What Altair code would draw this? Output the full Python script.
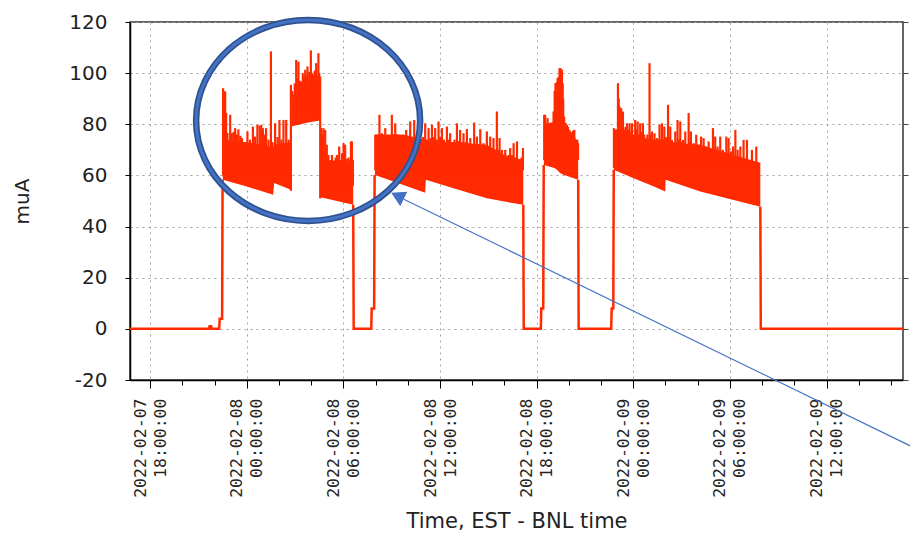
import json
import altair as alt
import pandas as pd

RED = "#ff2a00"

# ---------------- axes / ticks (x = hours since 2022-02-07 00:00 EST) ----------------
x_domain = [16.75, 64.75]
y_domain = [-20, 120]
y_ticks = [-20, 0, 20, 40, 60, 80, 100, 120]
x_major_hours = [18, 24, 30, 36, 42, 48, 54, 60]
x_major_dates = ["2022-02-07", "2022-02-08", "2022-02-08", "2022-02-08",
                 "2022-02-08", "2022-02-09", "2022-02-09", "2022-02-09"]
x_major_times = ["18:00:00", "00:00:00", "06:00:00", "12:00:00",
                 "18:00:00", "00:00:00", "06:00:00", "12:00:00"]
x_minor_hours = [18, 20, 22, 24, 26, 28, 30, 32, 34, 36, 38, 40, 42, 44,
                 46, 48, 50, 52, 54, 56, 58, 60, 62, 64]

# ---------------- beam-off stretches (trace at zero, injection steps) ----------------
off_seg = [0] * 9 + [1] * 6 + [2] * 6 + [3] * 6 + [4] * 3
off_hours = [16.75, 21.66, 21.69, 21.79, 21.82, 22.29, 22.32, 22.47, 22.50,
             30.61, 30.64, 31.73, 31.76, 31.91, 31.94,
             41.17, 41.20, 42.26, 42.29, 42.41, 42.44,
             44.58, 44.61, 46.63, 46.66, 46.76, 46.79,
             55.89, 55.92, 64.75]
off_values = [0, 0, 1, 1, 0, 0, 4, 4, 58.3,
              48.5, 0, 0, 8, 8, 60.2,
              48.5, 0, 0, 8, 8, 64.1,
              58.3, 0, 0, 8, 8, 62.2,
              47.8, 0, 0]

# ---------------- dense stored-beam bands (lower envelope / solid top) ----------------
band_id = ["A1"] * 5 + ["A2"] * 3 + ["A3"] * 3 + ["B"] * 8 + ["C"] * 8 + ["D"] * 8
band_hours = [22.51, 24.00, 25.64, 25.70, 26.74,
              26.76, 27.80, 28.56,
              28.58, 29.60, 30.61,
              31.96, 33.73, 35.08, 35.12, 36.84, 38.91, 40.00, 41.17,
              42.45, 43.10, 43.12, 43.26, 43.47, 43.62, 43.66, 44.58,
              46.79, 48.02, 49.06, 49.99, 50.01, 52.16, 54.23, 55.89]
band_low = [58.3, 55.7, 52.4, 57.0, 54.4,
            79.1, 80.7, 81.5,
            51.5, 50.0, 48.5,
            60.2, 56.3, 53.2, 58.3, 55.0, 51.1, 49.8, 48.5,
            64.1, 62.9, 62.8, 62.2, 60.9, 60.5, 60.3, 58.3,
            62.2, 58.9, 56.3, 53.7, 58.3, 53.7, 50.4, 47.8]
band_top = [74, 73, 71, 72, 73,
            91, 96, 96,
            65, 66, 65,
            76, 76, 74, 73, 73, 72, 68, 66,
            80, 81, 93, 96, 97, 96, 81, 73,
            76, 76, 74, 74, 73, 72, 68, 65]

# ---------------- spikes on top of the bands ----------------
a1_hours = [22.53, 22.60, 22.66, 22.72, 22.80, 22.97, 23.07, 23.18, 23.28, 23.38,
            23.48, 23.60, 23.70, 23.85, 24.04, 24.20, 24.38, 24.52, 24.66, 24.80,
            24.90, 25.00, 25.10, 25.20, 25.35, 25.50, 25.60, 25.76, 25.91, 26.03,
            26.15, 26.28, 26.45, 26.60]
a1_peaks = [94.1, 93.0, 92.7, 84.5, 76.6, 83.7, 76.5, 77.0, 78.5, 76.0,
            78.0, 75.5, 74.6, 72.5, 77.2, 74.0, 79.1, 75.2, 79.8, 79.5,
            79.8, 78.5, 76.0, 78.5, 74.0, 108.5, 73.0, 80.4, 75.0, 81.7,
            74.0, 81.7, 81.7, 74.0]
a2_hours = [26.82, 26.90, 26.98, 27.07, 27.14, 27.21, 27.29, 27.36, 27.48, 27.56,
            27.63, 27.70, 27.77, 27.88, 27.98, 28.06, 28.14, 28.22, 28.31, 28.38,
            28.45, 28.50]
a2_peaks = [93.0, 90.2, 96.0, 105.2, 98.0, 104.5, 97.0, 96.7, 100.0, 98.5,
            101.3, 99.0, 102.6, 100.5, 108.9, 100.0, 99.3, 101.0, 103.9, 99.0,
            107.8, 100.0]
a3_hours = [28.62, 28.70, 28.76, 28.87, 28.97, 29.07, 29.18, 29.29, 29.43, 29.52,
            29.60, 29.67, 29.74, 29.82, 29.91, 30.01, 30.11, 30.20, 30.32, 30.40,
            30.47, 30.53, 30.59]
a3_peaks = [78.5, 76.0, 78.5, 77.8, 72.0, 68.0, 66.0, 68.0, 65.5, 67.0,
            68.0, 66.5, 71.3, 66.0, 68.7, 72.6, 72.0, 66.5, 67.0, 66.0,
            73.3, 73.3, 66.0]
b_hours = [31.98, 32.10, 32.24, 32.31, 32.39, 32.50, 32.60, 32.74, 32.86, 33.01,
           33.12, 33.22, 33.32, 33.42, 33.63, 33.76, 33.90, 34.02, 34.15, 34.28,
           34.40, 34.52, 34.66, 34.80, 34.95, 35.08, 35.18, 35.29, 35.40, 35.50,
           35.60, 35.70, 35.80, 35.91, 36.00, 36.12, 36.25, 36.43, 36.53, 36.63,
           36.75, 36.90, 37.05, 37.15, 37.25, 37.35, 37.46, 37.57, 37.67, 37.78,
           37.88, 38.00, 38.12, 38.20, 38.29, 38.40, 38.50, 38.60, 38.70, 38.80,
           38.91, 39.00, 39.12, 39.22, 39.32, 39.43, 39.53, 39.62, 39.70, 39.85,
           39.95, 40.05, 40.19, 40.28, 40.36, 40.47, 40.57, 40.67, 40.78, 40.88,
           40.98, 41.06, 41.15]
b_peaks = [75.9, 75.9, 83.7, 74.0, 76.5, 74.0, 78.5, 75.2, 74.5, 83.7,
           76.0, 80.4, 76.0, 75.9, 73.9, 75.0, 77.8, 74.5, 81.1, 75.0,
           81.7, 74.0, 75.2, 73.0, 75.0, 80.4, 74.0, 78.5, 74.5, 79.8,
           75.0, 78.5, 74.0, 81.1, 75.0, 78.5, 74.0, 79.1, 74.0, 76.5,
           73.0, 74.0, 80.4, 73.5, 77.8, 73.0, 76.5, 73.0, 78.1, 72.5,
           74.6, 72.0, 80.7, 72.0, 75.2, 71.5, 78.1, 71.0, 72.6, 70.5,
           77.2, 71.0, 75.2, 70.0, 74.6, 70.0, 85.0, 70.0, 74.6, 70.0,
           67.0, 70.0, 66.1, 68.0, 70.7, 68.0, 72.6, 67.0, 73.3, 66.0,
           64.8, 67.0, 70.7]
c_hours = [42.47, 42.53, 42.60, 42.68, 42.74, 42.80, 42.88, 42.95, 43.05, 43.12,
           43.17, 43.22, 43.26, 43.30, 43.36, 43.42, 43.47, 43.52, 43.57, 43.62,
           43.65, 43.71, 43.80, 43.88, 43.95, 44.03, 44.11, 44.19, 44.26, 44.34,
           44.40, 44.46, 44.52, 44.57]
c_peaks = [83.7, 83.7, 80.0, 82.4, 79.0, 79.1, 80.5, 79.5, 85.0, 93.0,
           96.1, 94.0, 96.5, 98.0, 98.5, 101.9, 102.0, 101.5, 101.3, 96.0,
           90.0, 83.0, 80.5, 79.8, 79.0, 77.8, 77.0, 75.2, 77.5, 77.8,
           74.0, 72.6, 74.0, 72.6]
d_hours = [46.80, 46.86, 46.93, 47.05, 47.10, 47.15, 47.25, 47.30, 47.36, 47.44,
           47.52, 47.61, 47.69, 47.77, 47.85, 47.92, 48.02, 48.12, 48.20, 48.27,
           48.35, 48.43, 48.52, 48.60, 48.68, 48.75, 48.88, 49.01, 49.08, 49.16,
           49.24, 49.32, 49.40, 49.47, 49.55, 49.63, 49.70, 49.78, 49.85, 49.93,
           50.05, 50.16, 50.23, 50.30, 50.40, 50.50, 50.61, 50.68, 50.75, 50.84,
           50.92, 51.00, 51.09, 51.16, 51.23, 51.33, 51.44, 51.51, 51.58, 51.67,
           51.75, 51.83, 51.91, 51.98, 52.06, 52.14, 52.21, 52.29, 52.37, 52.45,
           52.53, 52.60, 52.68, 52.80, 52.95, 53.02, 53.09, 53.16, 53.24, 53.32,
           53.40, 53.48, 53.57, 53.67, 53.78, 53.85, 53.92, 54.00, 54.07, 54.13,
           54.19, 54.26, 54.34, 54.41, 54.48, 54.56, 54.65, 54.75, 54.85, 54.95,
           55.06, 55.14, 55.22, 55.30, 55.37, 55.45, 55.52, 55.58, 55.64, 55.71,
           55.78]
d_peaks = [78.5, 77.0, 78.0, 96.1, 90.0, 86.9, 86.3, 80.0, 85.0, 77.8,
           79.0, 80.4, 78.0, 80.4, 77.0, 80.4, 74.6, 81.7, 78.0, 81.1,
           76.0, 80.4, 77.0, 80.4, 76.0, 73.9, 76.0, 103.9, 76.0, 77.2,
           74.0, 76.5, 73.0, 74.6, 72.5, 79.8, 74.0, 80.4, 74.0, 79.1,
           75.0, 87.6, 75.0, 79.1, 73.9, 73.0, 77.2, 73.0, 81.7, 74.0,
           81.1, 73.0, 73.9, 72.0, 77.2, 72.0, 84.4, 73.0, 77.2, 71.5,
           72.6, 71.0, 75.9, 71.0, 72.0, 70.5, 75.2, 70.5, 74.6, 70.0,
           71.3, 69.5, 73.3, 70.0, 78.5, 70.0, 75.2, 69.0, 71.3, 69.0,
           75.2, 68.5, 70.0, 68.0, 75.2, 68.0, 74.6, 68.0, 69.4, 67.5,
           71.3, 67.0, 77.8, 67.0, 70.0, 66.5, 71.3, 66.0, 73.9, 66.0,
           73.9, 65.5, 66.1, 65.0, 70.0, 65.0, 63.5, 65.0, 71.3, 64.5,
           63.5]
block_foot = {"A1": 60, "A2": 85, "A3": 56, "B": 62, "C": 66, "D": 63}
# vertical edges between sub-blocks
edge_hours = [26.74, 28.56]
edge_peaks = [95.4, 98.7]
edge_foots = [54, 51]

# ---------------- annotation (blue ellipse + arrow) ----------------
ellipse_hours = [27.81]
ellipse_values = [81.5]
arrow_hours = [65.21, 33.75]
arrow_values = [-45.8, 50.7]
arrow_head_hours = [33.36]
arrow_head_values = [52.0]

# ---------------- build tables ----------------
off_df = pd.DataFrame({"seg": off_seg, "h": off_hours, "v": off_values})
band_df = pd.DataFrame({"band": band_id, "h": band_hours, "low": band_low, "top": band_top})
rows = []
for name, hs, ps in [("A1", a1_hours, a1_peaks), ("A2", a2_hours, a2_peaks),
                     ("A3", a3_hours, a3_peaks), ("B", b_hours, b_peaks),
                     ("C", c_hours, c_peaks), ("D", d_hours, d_peaks)]:
    for h, p in zip(hs, ps):
        rows.append({"h": h, "peak": p, "foot": block_foot[name]})
for h, p, f in zip(edge_hours, edge_peaks, edge_foots):
    rows.append({"h": h, "peak": p, "foot": f})
spike_df = pd.DataFrame(rows)
ell_df = pd.DataFrame({"h": ellipse_hours, "v": ellipse_values})
arrow_df = pd.DataFrame({"h": arrow_hours, "v": arrow_values})
head_df = pd.DataFrame({"h": arrow_head_hours, "v": arrow_head_values})
guide_df = pd.DataFrame({"h": [x_domain[0]], "v": [0]})

label_expr = "[{d}[indexof({h}, datum.value)], {t}[indexof({h}, datum.value)]]".format(
    d=json.dumps(x_major_dates), t=json.dumps(x_major_times), h=json.dumps(x_major_hours))

xs = alt.Scale(domain=x_domain, nice=False, zero=False)
ys = alt.Scale(domain=y_domain, nice=False, zero=False)

GRID = dict(grid=True, gridColor="#a0a0a0", gridDash=[2, 4], gridWidth=1)
TXT = "#222222"

x_axis_main = alt.Axis(
    orient="bottom", values=x_major_hours, labelExpr=label_expr, labelAngle=270,
    labelAlign="right", labelBaseline="middle", labelFont="DejaVu Sans Mono",
    labelFontSize=16.5, labelLineHeight=20, labelColor=TXT, labelPadding=10,
    labelOffset=-10, labelFlush=False, labelOverlap=False, tickSize=8,
    tickColor="#000", tickWidth=1, domainColor="#000", domainWidth=1.5,
    title="Time, EST - BNL time", titleFont="DejaVu Sans", titleFontSize=21,
    titleFontWeight="normal", titleColor=TXT, titlePadding=13, **GRID)
y_axis_main = alt.Axis(
    orient="left", values=y_ticks, labelExpr="'' + datum.value", tickSize=5,
    tickColor="#000", labelFont="DejaVu Sans", labelFontSize=20, labelColor=TXT,
    labelPadding=18, domainColor="#000", domainWidth=1.5, title="muA",
    titleFont="DejaVu Sans", titleFontSize=20, titleFontWeight="normal",
    titleColor=TXT, titlePadding=36, **GRID)
x_axis_minor = alt.Axis(orient="bottom", values=x_minor_hours, labels=False, grid=False,
                        domain=False, tickSize=5, tickColor="#000", title=None)
y_axis_right = alt.Axis(orient="right", values=y_ticks, labels=False, grid=False,
                        domain=False, tickSize=5, tickColor="#444", title=None)

band = alt.Chart(band_df).mark_area(color=RED, opacity=1, interpolate="linear").encode(
    x=alt.X("h:Q", scale=xs, axis=x_axis_main),
    y=alt.Y("low:Q", scale=ys, axis=y_axis_main),
    y2="top:Q",
    detail="band:N",
)
spikes = alt.Chart(spike_df).mark_rule(color=RED, strokeWidth=2.2).encode(
    x=alt.X("h:Q", scale=xs, axis=None),
    y=alt.Y("peak:Q", scale=ys, axis=None),
    y2="foot:Q",
)
off = alt.Chart(off_df).mark_line(color=RED, strokeWidth=2.5).encode(
    x=alt.X("h:Q", scale=xs, axis=None),
    y=alt.Y("v:Q", scale=ys, axis=None),
    detail="seg:N",
)
guides = alt.Chart(guide_df).mark_point(opacity=0).encode(
    x=alt.X("h:Q", scale=xs, axis=x_axis_minor),
    y=alt.Y("v:Q", scale=ys, axis=y_axis_right),
)
ELLIPSE = "M -1 0 A 1 0.897 0 1 0 1 0 A 1 0.897 0 1 0 -1 0 Z"
ell_outer = alt.Chart(ell_df).mark_point(
    shape=ELLIPSE, size=50176, filled=False, color="#2f528f", strokeWidth=6.5, opacity=1
).encode(x=alt.X("h:Q", scale=xs, axis=None), y=alt.Y("v:Q", scale=ys, axis=None))
ell_inner = alt.Chart(ell_df).mark_point(
    shape=ELLIPSE, size=50176, filled=False, color="#4472c4", strokeWidth=3, opacity=1
).encode(x=alt.X("h:Q", scale=xs, axis=None), y=alt.Y("v:Q", scale=ys, axis=None))
arrow_line = alt.Chart(arrow_df).mark_line(color="#4472c4", strokeWidth=1.2).encode(
    x=alt.X("h:Q", scale=xs, axis=None), y=alt.Y("v:Q", scale=ys, axis=None))
arrow_head = alt.Chart(head_df).mark_point(
    shape="triangle-up", size=260, filled=True, color="#4472c4", angle=296, opacity=1
).encode(x=alt.X("h:Q", scale=xs, axis=None), y=alt.Y("v:Q", scale=ys, axis=None))

chart = alt.layer(
    band, spikes, off, guides, ell_outer, ell_inner, arrow_line, arrow_head
).resolve_axis(x="independent", y="independent").properties(
    width=773, height=358,
    padding={"left": 130, "top": 22, "right": 7, "bottom": 161},
    autosize=alt.AutoSizeParams(type="none"),
    background="white",
).configure_view(stroke="#333333", strokeWidth=1.5)

chart.save("out.html", embed_options={"renderer": "svg", "actions": False})
